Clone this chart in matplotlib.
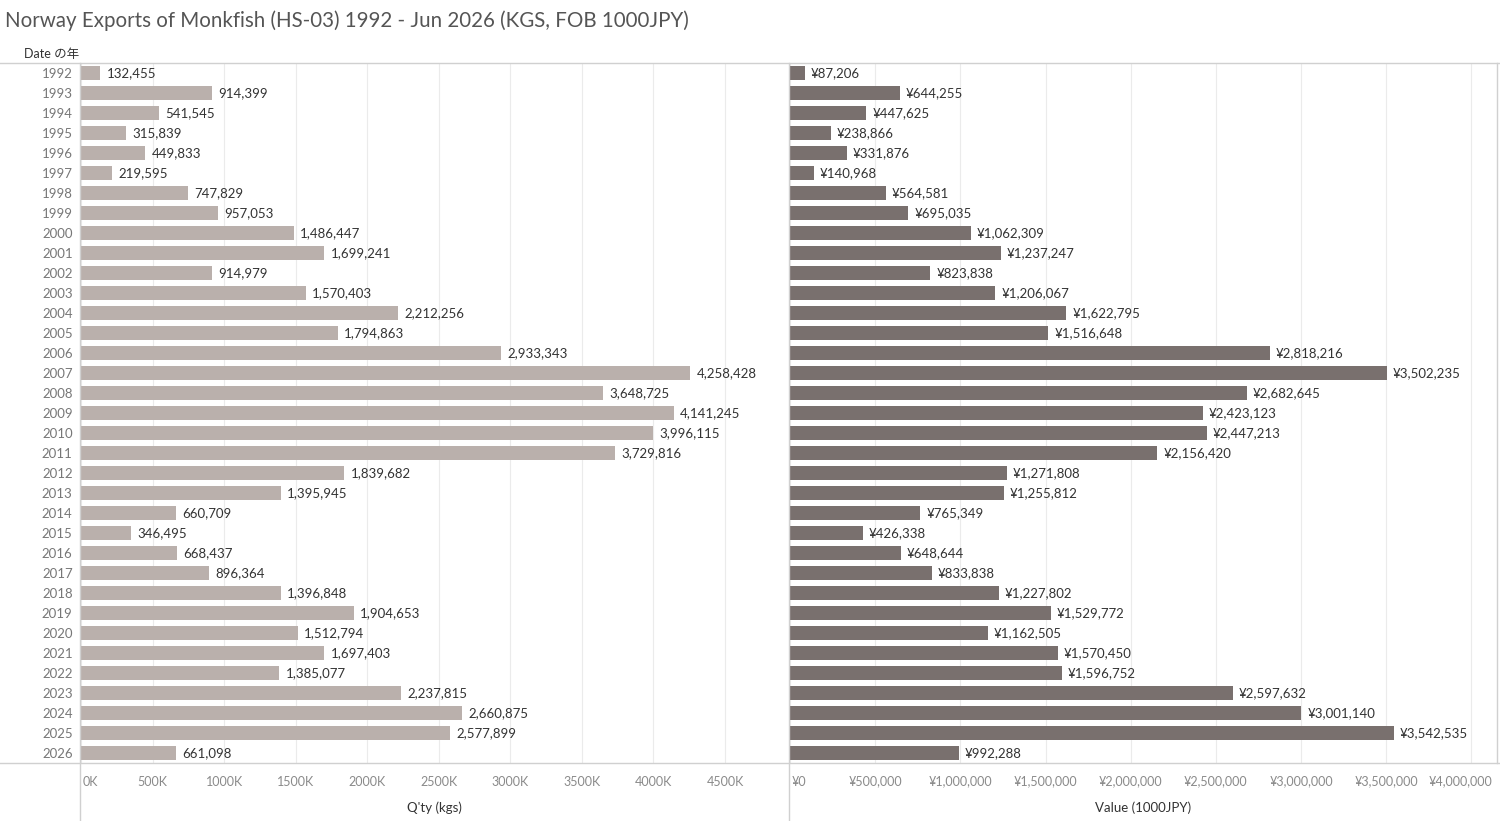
import matplotlib
matplotlib.use("Agg")
import matplotlib.pyplot as plt
import matplotlib.transforms as mtransforms
from matplotlib.lines import Line2D
from matplotlib.ticker import FuncFormatter, MultipleLocator

plt.rcParams['font.family'] = ['Lato', 'Liberation Sans', 'Noto Sans CJK JP', 'DejaVu Sans']

years = list(range(1992, 2027))
qty = [132455, 914399, 541545, 315839, 449833, 219595, 747829, 957053, 1486447, 1699241,
       914979, 1570403, 2212256, 1794863, 2933343, 4258428, 3648725, 4141245, 3996115, 3729816,
       1839682, 1395945, 660709, 346495, 668437, 896364, 1396848, 1904653, 1512794, 1697403,
       1385077, 2237815, 2660875, 2577899, 661098]
value = [87206, 644255, 447625, 238866, 331876, 140968, 564581, 695035, 1062309, 1237247,
         823838, 1206067, 1622795, 1516648, 2818216, 3502235, 2682645, 2423123, 2447213, 2156420,
         1271808, 1255812, 765349, 426338, 648644, 833838, 1227802, 1529772, 1162505, 1570450,
         1596752, 2597632, 3001140, 3542535, 992288]

W, H = 1500, 821
fig = plt.figure(figsize=(15, 8.21), dpi=100)

def fx(px):
    return px / W

def fy(py):
    return 1 - py / H

top, bottom = 63, 763
ax1 = fig.add_axes([fx(81), fy(bottom), fx(788 - 81), fy(top) - fy(bottom)])
ax2 = fig.add_axes([fx(790), fy(bottom), fx(1497 - 790), fy(top) - fy(bottom)])

pos = list(range(len(years)))

def style(ax, xmax, step, fmt, xlabel):
    ax.set_xlim(0, xmax)
    ax.set_ylim(len(years) - 0.5, -0.5)
    ax.xaxis.set_major_locator(MultipleLocator(step))
    ax.xaxis.set_major_formatter(FuncFormatter(fmt))
    ax.grid(axis='x', color='#ebebeb', linewidth=0.8)
    ax.set_axisbelow(True)
    for s in ax.spines.values():
        s.set_visible(False)
    ax.tick_params(axis='x', length=0, pad=9, labelsize=9, labelcolor='#8a8a8a')
    ax.set_xlabel(xlabel, fontsize=9.5, color='#333333', labelpad=10)
    ax.set_yticks([])

ax1.barh(pos, qty, height=0.7, color='#bab0ac')
for i, v in enumerate(qty):
    ax1.text(v + 45000, i, f"{v:,}", va='center', ha='left', fontsize=9.5, color='#333333')
style(ax1, 4940000, 500000, lambda x, p: f"{int(x / 1000)}K", "Q'ty (kgs)")
ax1.set_yticks(pos)
ax1.set_yticklabels([str(y) for y in years], fontsize=9.5, color='#777777')
ax1.tick_params(axis='y', length=0, pad=6)

ax2.barh(pos, value, height=0.7, color='#79706e')
for i, v in enumerate(value):
    ax2.text(v + 35000, i, f"¥{v:,}", va='center', ha='left', fontsize=9.5, color='#333333')
style(ax2, 4150000, 500000, lambda x, p: f"¥{int(x):,}", "Value (1000JPY)")

# tableau-like tick label placement: zero label to the right, last one pulled inside
fig.canvas.draw()
for ax in (ax1, ax2):
    for t in ax.xaxis.get_major_ticks():
        if t.get_loc() == 0:
            t.label1.set_horizontalalignment('left')
            t.label1.set_transform(t.label1.get_transform() +
                                   mtransforms.ScaledTranslation(2 / 100, 0, fig.dpi_scale_trans))
        if ax is ax2 and t.get_loc() == 4000000:
            t.label1.set_transform(t.label1.get_transform() +
                                   mtransforms.ScaledTranslation(-11 / 100, 0, fig.dpi_scale_trans))

# frame lines
line_c = '#d0d0d0'
for y in (top, bottom):
    fig.add_artist(Line2D([0, 1], [fy(y), fy(y)], color=line_c, lw=1))
for x in (80, 789):
    fig.add_artist(Line2D([fx(x), fx(x)], [fy(top), 0], color=line_c, lw=1))
fig.add_artist(Line2D([fx(1497), fx(1497)], [fy(top), fy(bottom)], color=line_c, lw=1))

fig.text(fx(5), fy(21), "Norway Exports of Monkfish (HS-03) 1992 - Jun 2026 (KGS, FOB 1000JPY)",
         fontsize=14.8, color='#555555', va='center', ha='left')
fig.text(fx(24), fy(54), "Date の年", fontsize=9, color='#333333', va='center', ha='left')

fig.savefig("out.png", dpi=100)
